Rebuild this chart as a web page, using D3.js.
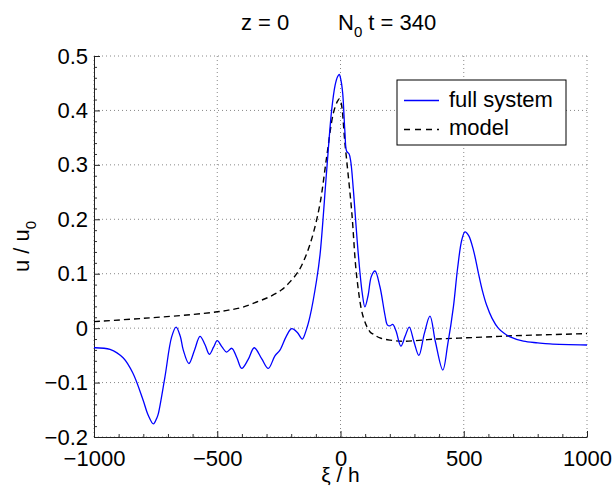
<!DOCTYPE html>
<html>
<head>
<meta charset="utf-8">
<script src="https://cdn.jsdelivr.net/npm/d3@7"></script>
<style>
  body { margin: 0; background: #fff; }
  text { font-family: "Liberation Sans", Arial, Helvetica, sans-serif; fill: #000; }
</style>
</head>
<body>
<div id="chart"></div>
<script>
// data (xi / h, u / u0)
var fullXi = [-1000, -935, -881, -842, -801, -780, -759, -745, -739, -712, -685, -667, -650, -638, -615, -592, -570, -550, -532, -515, -500, -480, -462, -441, -420, -401, -375, -350, -320, -293, -266, -245, -220, -198, -175, -155, -140, -124, -97, -83, -56, -36, -22, -12, -5, 2, 9, 18, 25, 35, 42, 52, 72, 88, 99, 112, 125, 140, 160, 180, 190, 200, 212, 225, 245, 262, 279, 298, 318, 340, 363, 385, 415, 435, 458, 475, 492, 505, 520, 540, 559, 575, 593, 615, 640, 665, 688, 742, 800, 850, 1000];
var fullU = [-0.036, -0.039, -0.055, -0.083, -0.132, -0.160, -0.176, -0.165, -0.157, -0.089, -0.016, 0.002, -0.015, -0.040, -0.065, -0.040, -0.015, -0.030, -0.048, -0.035, -0.023, -0.035, -0.044, -0.037, -0.055, -0.074, -0.058, -0.036, -0.056, -0.074, -0.051, -0.040, -0.015, -0.001, -0.008, -0.020, -0.005, 0.021, 0.088, 0.135, 0.290, 0.400, 0.446, 0.462, 0.466, 0.455, 0.431, 0.360, 0.325, 0.320, 0.305, 0.255, 0.137, 0.065, 0.039, 0.060, 0.095, 0.105, 0.076, 0.025, 0.006, 0.004, 0.007, -0.005, -0.033, -0.015, 0.002, -0.025, -0.050, -0.010, 0.022, -0.025, -0.077, -0.030, 0.039, 0.110, 0.162, 0.177, 0.170, 0.142, 0.102, 0.070, 0.042, 0.018, 0.000, -0.010, -0.016, -0.024, -0.027, -0.029, -0.031];

var modelXi = [-1000, -800, -600, -500, -455, -400, -340, -286, -240, -205, -170, -137, -110, -83, -56, -29, -12, -5, 2, 18, 45, 66, 92, 120, 133, 160, 201, 255, 390, 552, 700, 850, 1000];
var modelU = [0.012, 0.018, 0.025, 0.030, 0.033, 0.038, 0.048, 0.058, 0.070, 0.085, 0.105, 0.137, 0.175, 0.229, 0.315, 0.395, 0.417, 0.421, 0.415, 0.340, 0.217, 0.094, 0.021, -0.007, -0.011, -0.018, -0.022, -0.024, -0.020, -0.017, -0.014, -0.012, -0.010];

var xTicks = [-1000, -500, 0, 500, 1000];
var yTicks = [-0.2, -0.1, 0, 0.1, 0.2, 0.3, 0.4, 0.5];

var width = 614, height = 488;
var margin = { top: 56, right: 27, bottom: 51, left: 94 };
var w = width - margin.left - margin.right;
var h = height - margin.top - margin.bottom;
var fs = "22px";

var svg = d3.select("#chart").append("svg")
    .attr("width", width)
    .attr("height", height);

var g = svg.append("g").attr("transform", `translate(${margin.left},${margin.top})`);

var x = d3.scaleLinear().domain([-1000, 1000]).range([0, w]);
var y = d3.scaleLinear().domain([-0.2, 0.5]).range([h, 0]);

// dotted grid
g.append("g").selectAll("line").data(xTicks).enter().append("line")
    .attr("x1", d => x(d)).attr("x2", d => x(d))
    .attr("y1", 0).attr("y2", h)
    .attr("stroke", "#888").attr("stroke-width", 1).attr("stroke-dasharray", "1,3");
g.append("g").selectAll("line").data(yTicks).enter().append("line")
    .attr("x1", 0).attr("x2", w)
    .attr("y1", d => y(d)).attr("y2", d => y(d))
    .attr("stroke", "#888").attr("stroke-width", 1).attr("stroke-dasharray", "1,3");

// minor ticks
var xMinor = d3.range(-1000, 1001, 100).filter(d => xTicks.indexOf(d) < 0);
var yMinor = d3.range(-20, 51, 2).map(d => d / 100).filter(d => yTicks.every(t => Math.abs(t - d) > 1e-9));

g.append("g").attr("transform", `translate(0,${h})`)
    .call(d3.axisBottom(x).tickValues(xMinor).tickSize(-3).tickFormat(""))
    .call(a => a.select(".domain").remove())
    .selectAll("line").attr("stroke", "#333");
g.append("g")
    .call(d3.axisLeft(y).tickValues(yMinor).tickSize(-3).tickFormat(""))
    .call(a => a.select(".domain").remove())
    .selectAll("line").attr("stroke", "#333");

// major axes
var xAxis = g.append("g").attr("transform", `translate(0,${h})`)
    .call(d3.axisBottom(x).tickValues(xTicks).tickSizeInner(-6).tickSizeOuter(0).tickPadding(13)
        .tickFormat(d => d < 0 ? "\u2212" + Math.abs(d) : d));
var yAxis = g.append("g")
    .call(d3.axisLeft(y).tickValues(yTicks).tickSizeInner(-6).tickSizeOuter(0).tickPadding(6)
        .tickFormat(d => d < 0 ? "\u2212" + d3.format("")(Math.abs(+d.toFixed(1))) : d3.format("")(+d.toFixed(1))));

[xAxis, yAxis].forEach(function(a) {
    a.select(".domain").attr("stroke", "#222");
    a.selectAll(".tick line").attr("stroke", "#222");
    a.selectAll("text").style("font-size", fs).style("font-family", "Liberation Sans, Arial, sans-serif").attr("fill", "#000");
});

// curves
var line = d3.line()
    .x(d => x(d[0]))
    .y(d => y(d[1]))
    .curve(d3.curveCatmullRom.alpha(0.5));

g.append("path")
    .datum(d3.zip(modelXi, modelU))
    .attr("fill", "none")
    .attr("stroke", "#000")
    .attr("stroke-width", 1.4)
    .attr("stroke-dasharray", "6,4")
    .attr("d", line);

g.append("path")
    .datum(d3.zip(fullXi, fullU))
    .attr("fill", "none")
    .attr("stroke", "#0000ff")
    .attr("stroke-width", 1.3)
    .attr("d", line);

// legend
var legend = svg.append("g").attr("transform", "translate(397,80)");
legend.append("rect")
    .attr("width", 169).attr("height", 65)
    .attr("fill", "#fff").attr("stroke", "#000").attr("stroke-width", 1);
legend.append("line")
    .attr("x1", 7).attr("x2", 42).attr("y1", 20.5).attr("y2", 20.5)
    .attr("stroke", "#0000ff").attr("stroke-width", 1.3);
legend.append("line")
    .attr("x1", 7).attr("x2", 42).attr("y1", 49.5).attr("y2", 49.5)
    .attr("stroke", "#000").attr("stroke-width", 1.4).attr("stroke-dasharray", "6,5");
legend.append("text").attr("x", 52).attr("y", 27).style("font-size", fs).text("full system");
legend.append("text").attr("x", 52).attr("y", 55).style("font-size", fs).text("model");

// title
svg.append("text").attr("x", 241).attr("y", 30).style("font-size", fs).text("z = 0");
var t2 = svg.append("text").attr("x", 338).attr("y", 30).style("font-size", fs);
t2.append("tspan").text("N");
t2.append("tspan").attr("dy", 7).style("font-size", "15px").text("0");
t2.append("tspan").attr("dy", -7).text(" t = 340");

// axis labels
svg.append("text")
    .attr("x", margin.left + w / 2).attr("y", 482)
    .attr("text-anchor", "middle").style("font-size", "21px")
    .text("\u03be / h");

var yl = svg.append("text")
    .attr("transform", `translate(29,${margin.top + h / 2}) rotate(-90)`)
    .attr("text-anchor", "middle").style("font-size", fs);
yl.append("tspan").text("u / u");
yl.append("tspan").attr("dy", 7).style("font-size", "15px").text("0");
</script>
</body>
</html>
